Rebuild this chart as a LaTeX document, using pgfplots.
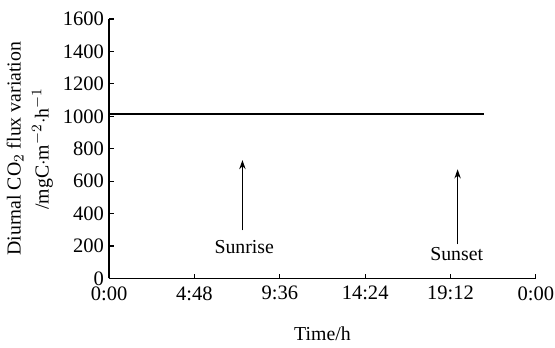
\documentclass[border=0pt]{standalone}
\usepackage{fontspec}
\setmainfont{Liberation Serif}
\usepackage{pgfplots}
\pgfplotsset{compat=1.18}
\usetikzlibrary{arrows.meta}
\begin{document}
\fontsize{10.9}{12}\selectfont
\begin{tikzpicture}
\begin{axis}[
  scale only axis,
  width=235pt, height=142.9pt,
  xmin=0, xmax=24, ymin=0, ymax=1600,
  axis lines=left,
  axis line style={line width=0.9pt, -},
  xtick={0,4.8,9.6,14.4,19.2,24},
  xticklabels={\mbox{0:00},\mbox{4:48},\mbox{9:36},\mbox{14:24},\mbox{19:12},\mbox{0:00}},
  ytick={0,200,...,1600},
  tick style={line width=0.7pt, black},
  major tick length=2.5pt,
  tick align=inside,
  /pgf/number format/assume math mode=true,
  /pgf/number format/1000 sep={},
  tick label style={font=\fontsize{11.3}{12}\selectfont},
  xticklabel style={yshift=-0.5pt, inner xsep=0.5pt},
  yticklabel style={xshift=1pt},
  xlabel={Time/h},
  xlabel style={yshift=-7pt},
  ylabel={Diurnal CO$_2$ flux variation\\[3.5pt]/mgC$\cdot$m$^{-2}\cdot$h$^{-1}$},
  ylabel style={align=center, yshift=-2pt},
  label style={font=\fontsize{10.9}{12}\selectfont},
  clip=false,
]
\addplot[black, line width=0.8pt] coordinates {(0,1015) (21.1,1015)};
\addplot[black, line width=0.7pt, -{Stealth[length=5pt,width=3.5pt]}] coordinates {(7.5,296) (7.5,730)};
\addplot[black, line width=0.7pt, -{Stealth[length=5pt,width=3.5pt]}] coordinates {(19.6,210) (19.6,673)};
\node at (axis cs:7.6,195) {Sunrise};
\node at (axis cs:19.55,148) {Sunset};
\end{axis}
\path ([yshift=3pt]current bounding box.north) circle (0pt);
\end{tikzpicture}
\end{document}
